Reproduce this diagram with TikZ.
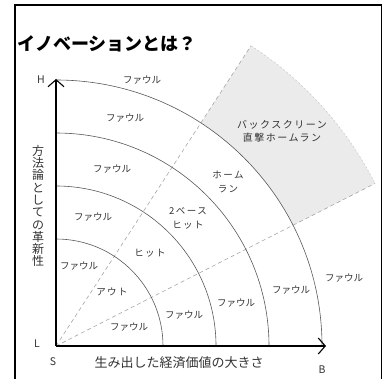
\documentclass[tikz,border=0pt]{standalone}
\usepackage{fontspec}
\setmainfont{Noto Sans CJK JP}
\newfontfamily\jpsp[LetterSpace=15]{Noto Sans CJK JP}
\usetikzlibrary{arrows.meta}
\definecolor{ink}{gray}{0.2}
\begin{document}
\begin{tikzpicture}[x=1pt,y=1pt,
  lbl/.style={text=ink,font=\fontsize{9.5}{11}\selectfont,inner sep=0pt},
  lblsp/.style={text=ink,font=\jpsp\fontsize{9.5}{14}\selectfont,inner sep=0pt,align=center},
  axislbl/.style={text=ink,font=\fontsize{10.5}{12}\selectfont,inner sep=0pt},
  ring/.style={draw=black!65,line width=0.6pt},
  ray/.style={draw=black!35,line width=0.6pt,dash pattern=on 4pt off 3pt},
  axis/.style={draw=black,line width=1.1pt,-{Straight Barb[length=7pt,width=16pt,line width=1.1pt]}}]
\useasboundingbox (0,0) rectangle (387,378);
% frame
\draw[line width=1.6pt] (15,-2) -- (15,373) -- (381.5,373) -- (381.5,-2);
\coordinate (O) at (56,32);
% shaded sector
\fill[black!8] ([shift={(27:266)}]O) arc[start angle=27,end angle=57,radius=266]
  -- ([shift={(57:358)}]O) arc[start angle=57,end angle=27,radius=358] -- cycle;
\draw[black!22,line width=0.5pt,dash pattern=on 2pt off 2pt] ([shift={(57:358)}]O) arc[start angle=57,end angle=27,radius=358];
% rays
\coordinate (R1) at ([shift={(27:358)}]O);
\coordinate (R2) at ([shift={(57:358)}]O);
\draw[ray] (O) -- (R1);
\draw[ray] (O) -- (R2);
% arcs
\foreach \r in {107,160,213,266}
  \draw[ring] ([shift={(0:\r)}]O) arc[start angle=0,end angle=90,radius=\r];
% axes
\coordinate (H) at (56,299);
\coordinate (B) at (326,32);
\draw[axis] (O) -- (H);
\draw[axis] (O) -- (B);
% title
\node[anchor=west,inner sep=0pt,font=\bfseries\fontsize{18}{20}\selectfont] (title) at (17,334) {イノベーションとは？};
% axis letters
\node[axislbl] (h) at (41,298) {H};
\node[axislbl] (l) at (37,34) {L};
\node[axislbl] (s) at (53,16) {S};
\node[axislbl] (b) at (322,8) {B};
% axis titles
\node[text=ink,inner sep=0pt,align=center,font=\fontsize{12}{12.3}\selectfont] (ylab) at (38,172)
  {方\\法\\論\\と\\し\\て\\の\\革\\新\\性};
\node[text=ink,inner sep=0pt,font=\fontsize{13}{15}\selectfont] (xlab) at (179,15) {生み出した経済価値の大きさ};
% region labels
\node[lbl] (f1) at (142,298) {ファウル};
\node[lbl] (f2) at (125,260) {ファウル};
\node[lbl] (f3) at (112,209) {ファウル};
\node[lbl] (f4) at (93,161) {ファウル};
\node[lbl] (f5) at (79,112) {ファウル};
\node[lblsp] (out) at (112,86) {アウト};
\node[lbl] (f6) at (129,51) {ファウル};
\node[lblsp] (hit) at (150,125) {ヒット};
\node[lblsp] (two) at (188,160) {2ベース\\ヒット};
\node[lblsp] (hr) at (228,196) {ホーム\\ラン};
\node[text=ink,inner sep=0pt,align=center,font=\jpsp\fontsize{10}{13}\selectfont] (bs) at (282,247) {バックスクリーン\\直撃ホームラン};
\node[lbl] (f7) at (184,63) {ファウル};
\node[lbl] (f8) at (236,75) {ファウル};
\node[lbl] (f9) at (291,88) {ファウル};
\node[lbl] (f10) at (344,100) {ファウル};
\end{tikzpicture}
\end{document}
